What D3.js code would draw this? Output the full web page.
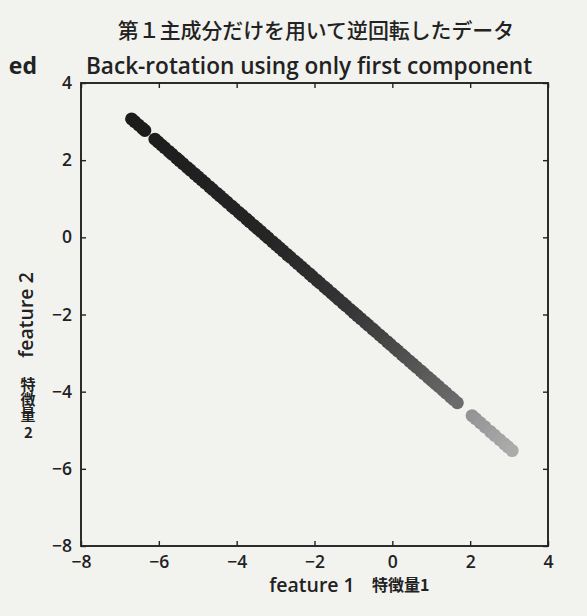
<!DOCTYPE html>
<html><head><meta charset="utf-8">
<script src="https://cdn.jsdelivr.net/npm/d3@7"></script>
<style>html,body{margin:0;padding:0;background:#f2f2ef}svg{display:block}</style>
</head><body><svg id="c" width="587" height="616"></svg>
<script>
// ---- data ----
const feature1 = [-6.70,-6.62,-6.52,-6.42,-6.36,
 -6.10,-6.02,-5.93,-5.85,-5.74,-5.66,-5.55,-5.47,-5.38,-5.27,-5.19,-5.08,-4.99,-4.90,-4.81,
 -4.70,-4.62,-4.51,-4.43,-4.33,-4.24,-4.13,-4.05,-3.94,-3.86,-3.75,-3.67,-3.56,-3.47,-3.38,
 -3.27,-3.19,-3.08,-2.99,-2.90,-2.81,-2.70,-2.62,-2.51,-2.43,-2.33,-2.24,-2.13,-2.05,-1.94,
 -1.86,-1.75,-1.67,-1.56,-1.47,-1.38,-1.27,-1.19,-1.08,-0.99,-0.90,-0.81,-0.70,-0.62,-0.51,
 -0.43,-0.33,-0.24,-0.13,-0.05,0.06,0.14,0.25,0.33,0.44,0.53,0.62,0.73,0.81,0.92,
 1.01,1.10,1.19,1.30,1.38,1.49,1.57,1.67,
 2.05,2.14,2.26,2.38,2.52,2.63,2.76,2.88,2.97,3.08];
const feature2 = [3.070,3.000,2.912,2.824,2.771,
 2.543,2.473,2.393,2.323,2.227,2.156,2.059,1.989,1.910,1.813,1.743,1.646,1.567,1.488,1.409,
 1.312,1.242,1.145,1.075,0.987,0.908,0.811,0.741,0.644,0.574,0.477,0.407,0.310,0.231,0.152,
 0.055,-0.015,-0.112,-0.191,-0.270,-0.349,-0.446,-0.516,-0.613,-0.683,-0.771,-0.850,-0.947,-1.017,-1.114,
 -1.184,-1.281,-1.351,-1.448,-1.527,-1.606,-1.703,-1.773,-1.870,-1.949,-2.028,-2.107,-2.204,-2.274,-2.371,
 -2.441,-2.529,-2.608,-2.705,-2.775,-2.872,-2.942,-3.039,-3.109,-3.206,-3.285,-3.364,-3.461,-3.531,-3.628,
 -3.707,-3.786,-3.865,-3.962,-4.032,-4.129,-4.199,-4.287,
 -4.621,-4.700,-4.806,-4.911,-5.034,-5.131,-5.245,-5.351,-5.430,-5.526];
const xTicks = [-8,-6,-4,-2,0,2,4];
const yTicks = [-8,-6,-4,-2,0,2,4];
const titleJa = "第１主成分だけを用いて逆回転したデータ";
const titleEn = "Back-rotation using only first component";
const xLabelEn = "feature 1", xLabelJa = "特徴量1";
const yLabelEn = "feature 2", yLabelJa = "特徴量2";
const neighbourTitleTail = "ed";

// ---- layout ----
const svg = d3.select("#c");
const L = 81, R = 548, T = 83, B = 546;
const ink = "#222";
const x = d3.scaleLinear().domain([-8, 4]).range([L, R]);
const y = d3.scaleLinear().domain([-8, 4]).range([B, T]);
const shade = d3.scaleLinear()
  .domain([-6.7, -3, -1, 0.5, 1.7, 2.0, 3.1])
  .range(["#1c1c1c", "#262626", "#363636", "#525252", "#6c6c6c", "#939393", "#ababab"]);

svg.append("rect").attr("width", 587).attr("height", 616).attr("fill", "#f2f2ef");

const pts = feature1.map((v, i) => ({f1: v, f2: feature2[i]}));
svg.append("g").selectAll("circle").data(pts).join("circle")
  .attr("cx", d => x(d.f1)).attr("cy", d => y(d.f2)).attr("r", 6.5)
  .attr("fill", d => shade(d.f1));

// axes (inward ticks on all four sides)
const font = "'Open Sans', 'Noto Sans', sans-serif";
const cjk = "'Noto Sans CJK JP', sans-serif";
function styleAxis(g) {
  g.select(".domain").remove();
  g.selectAll(".tick line").attr("stroke", ink).attr("stroke-width", 1.4);
  g.selectAll(".tick text").attr("fill", ink).attr("font-family", font)
    .attr("font-size", 17.5).attr("font-weight", 600);
}
const fmt = d3.format("d");
svg.append("g").attr("transform", `translate(0,${B})`)
  .call(d3.axisBottom(x).tickValues(xTicks).tickFormat(fmt).tickSizeInner(-5).tickSizeOuter(0).tickPadding(10))
  .call(styleAxis);
svg.append("g").attr("transform", `translate(0,${T})`)
  .call(d3.axisTop(x).tickValues(xTicks).tickFormat("").tickSizeInner(-5).tickSizeOuter(0))
  .call(styleAxis);
svg.append("g").attr("transform", `translate(${L},0)`)
  .call(d3.axisLeft(y).tickValues(yTicks).tickFormat(fmt).tickSizeInner(-5).tickSizeOuter(0).tickPadding(9))
  .call(styleAxis);
svg.append("g").attr("transform", `translate(${R},0)`)
  .call(d3.axisRight(y).tickValues(yTicks).tickFormat("").tickSizeInner(-5).tickSizeOuter(0))
  .call(styleAxis);

svg.append("rect").attr("x", L).attr("y", T).attr("width", R - L).attr("height", B - T)
  .attr("fill", "none").attr("stroke", ink).attr("stroke-width", 1.9);

// titles
svg.append("text").attr("x", 316).attr("y", 38).attr("text-anchor", "middle")
  .attr("font-family", cjk).attr("font-size", 20.9).attr("font-weight", 500)
  .attr("fill", ink).text(titleJa);
svg.append("text").attr("x", 309).attr("y", 74).attr("text-anchor", "middle")
  .attr("font-family", font).attr("font-size", 22.6).attr("font-weight", 600)
  .attr("fill", ink).text(titleEn);
svg.append("text").attr("x", 37).attr("y", 74).attr("text-anchor", "end")
  .attr("font-family", font).attr("font-size", 23).attr("font-weight", 700)
  .attr("fill", ink).text(neighbourTitleTail);

// x label
svg.append("text").attr("x", 312).attr("y", 592).attr("text-anchor", "middle")
  .attr("font-family", font).attr("font-size", 19.5).attr("font-weight", 600)
  .attr("fill", ink).text(xLabelEn);
svg.append("text").attr("x", 372).attr("y", 591)
  .attr("font-family", cjk).attr("font-size", 16).attr("font-weight", 700)
  .attr("fill", ink).text(xLabelJa);

// y label
svg.append("text").attr("transform", `translate(33,315) rotate(-90)`).attr("text-anchor", "middle")
  .attr("font-family", font).attr("font-size", 19.5).attr("font-weight", 600)
  .attr("fill", ink).text(yLabelEn);
// vertical Japanese label: one text running downward, each glyph turned back upright
const yj = svg.append("text").attr("transform", "translate(20.5,390) rotate(90)")
  .attr("font-family", cjk).attr("font-size", 15).attr("font-weight", 700).attr("fill", ink)
  .attr("rotate", "-90");
yj.append("tspan").attr("rotate", "-90 -90 -90").text(yLabelJa.slice(0, 3));
yj.append("tspan").attr("rotate", "-90").attr("dx", 3).attr("dy", -3.5).text(yLabelJa.slice(3));
</script></body></html>
